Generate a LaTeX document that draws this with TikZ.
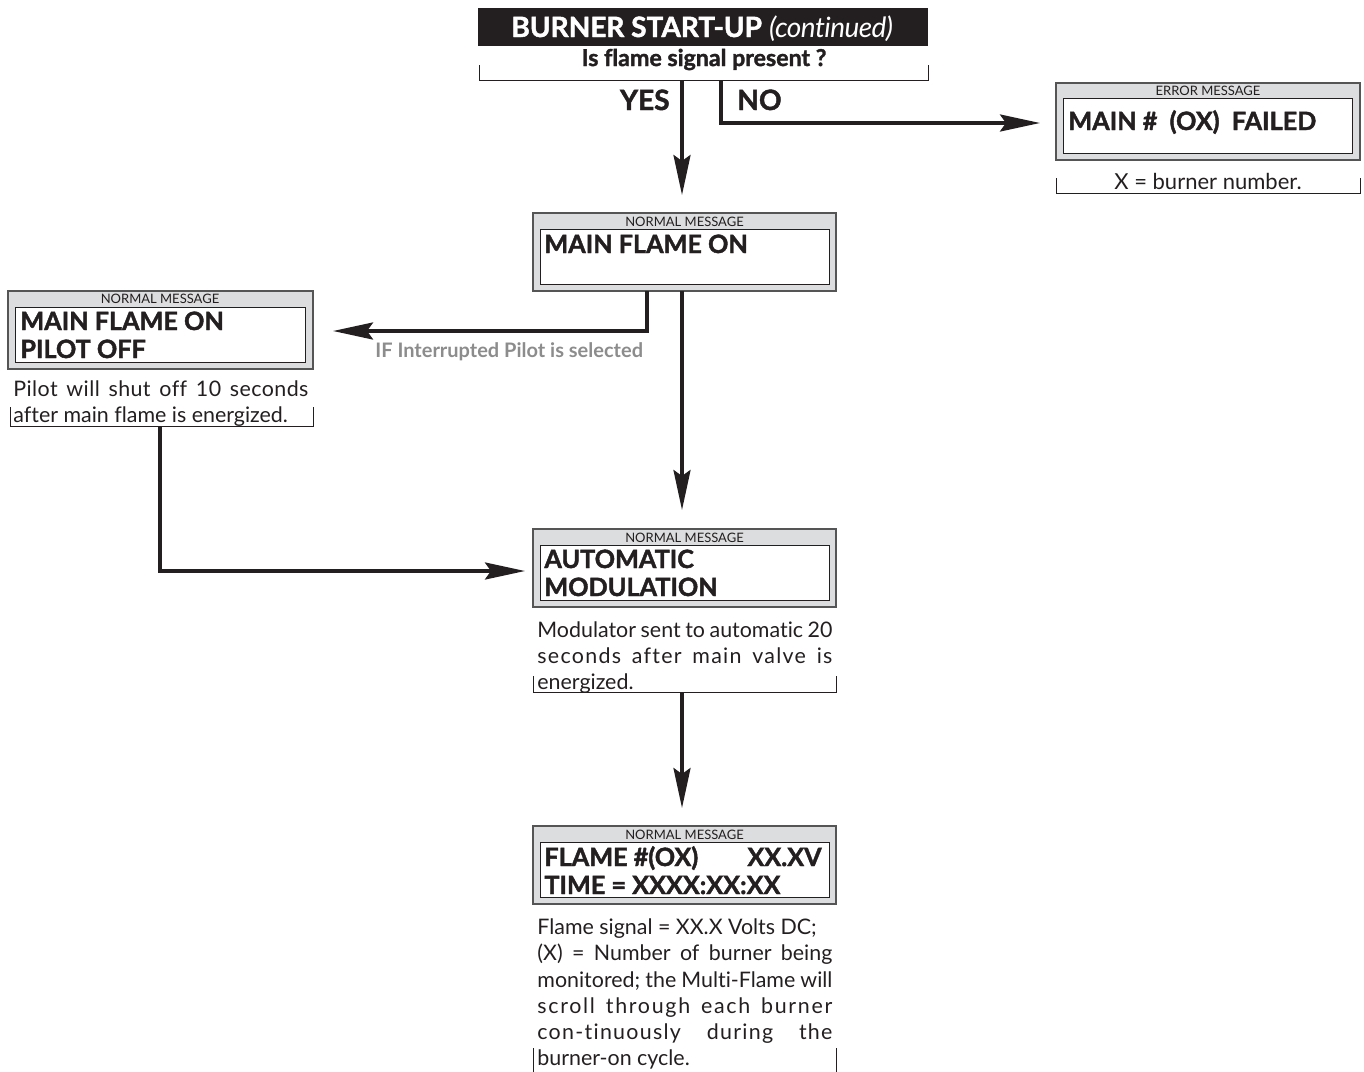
\documentclass[tikz,border=0pt]{standalone}
\usepackage{fontspec}
\setmainfont{Lato}[Ligatures={NoCommon}]
\newfontfamily\heavy{Lato}[Ligatures={NoCommon}, BoldFeatures={FakeBold=1.6}]
\usetikzlibrary{arrows.meta}
\definecolor{boxgray}{RGB}{220,221,222}
\definecolor{edgegray}{RGB}{85,85,85}
\definecolor{ink}{RGB}{35,31,32}
\definecolor{notegray}{RGB}{140,140,140}
\tikzset{
  outerbox/.style={draw=edgegray, fill=boxgray, line width=0.6pt, minimum width=151.5pt, minimum height=39pt, inner sep=0pt},
  innerbox/.style={draw=ink, fill=white, line width=0.5pt, minimum width=144.5pt, minimum height=27.5pt, inner sep=0pt},
  lbl/.style={font=\fontsize{6.5}{7}\selectfont, text=ink, inner sep=0pt},
  msg/.style={font=\heavy\bfseries\fontsize{12.6}{14}\selectfont, text=ink, inner sep=0pt, anchor=base west},
  body/.style={font=\fontsize{10.7}{13}\selectfont, text=ink, inner sep=0pt, anchor=base west},
  flow/.style={line width=1.8pt, draw=ink},
  arr/.style={flow, -{Stealth[length=20pt,width=8.5pt,inset=3pt]}},
  brk/.style={draw=ink, line width=0.5pt},
}
\newcommand{\jline}[1]{\makebox[147.5pt][s]{#1}}
\newcommand{\jlinels}[2]{\makebox[147.5pt][s]{\addfontfeature{LetterSpace=#1}#2}}
\begin{document}
\begin{tikzpicture}[x=0.5pt,y=-0.5pt]
\useasboundingbox (0,0) rectangle (1364,1071);

% title
\node[fill=ink, minimum width=225pt, minimum height=19pt, inner sep=0pt] (title) at (703,27) {};
\node[text=white, inner sep=0pt, anchor=base] (titletxt) at (702,37) {\fontsize{14}{16}\selectfont\heavy\textbf{BURNER START-UP} \textit{\addfontfeature{LetterSpace=-2}(continued)}};
\node[inner sep=0pt, anchor=base, text=ink] (question) at (704,66) {\heavy\bfseries\fontsize{11.6}{13}\selectfont Is flame signal present ?};
\draw[brk] (479,65) -- (479,80) -- (928,80) -- (928,65);
\node[inner sep=0pt, anchor=base east, text=ink, font=\heavy\bfseries\fontsize{14}{16}\selectfont] (yes) at (670,110) {YES};
\node[inner sep=0pt, anchor=base west, text=ink, font=\heavy\bfseries\fontsize{14}{16}\selectfont] (no) at (737,110) {NO};
\coordinate (yesS) at (682,80);
\coordinate (yesE) at (682,195);
\coordinate (noS) at (721,80);
\coordinate (noE) at (1040,123);
\draw[arr] (yesS) -- (yesE);
\draw[arr] (noS) |- (noE);

% error box
\node[outerbox, minimum width=152pt, minimum height=38.5pt] (err) at (1208,121.5) {};
\node[innerbox] (erri) at (1207.5,125.5) {};
\node[lbl] (errl) at (1208,91) {ERROR MESSAGE};
\node[msg] (errm) at (1068,130) {MAIN \# \ (OX) \ FAILED};
\draw[brk] (1056,178) -- (1056,193) -- (1360,193) -- (1360,178);
\node[body, anchor=base, font=\fontsize{11}{13}\selectfont] (errn) at (1208,189) {X = burner number.};

% main flame on
\node[outerbox] (mfo) at (684.5,252) {};
\node[innerbox] (mfoi) at (684.5,256.5) {};
\node[lbl] (mfol) at (684.5,222) {NORMAL MESSAGE};
\node[msg] (mfom) at (544,253) {MAIN FLAME ON};
\coordinate (pilS) at (647,291);
\coordinate (pilE) at (333,331);
\coordinate (mfoS) at (682,291);
\coordinate (mfoE) at (682,510);
\draw[arr] (pilS) |- (pilE);
\draw[arr] (mfoS) -- (mfoE);
\node[inner sep=0pt, anchor=base west, text=notegray, font=\bfseries\fontsize{10}{12}\selectfont] (ifnote) at (375,357) {IF Interrupted Pilot is selected};

% pilot off box
\node[outerbox, minimum width=152.5pt] (pof) at (160.5,330) {};
\node[innerbox, minimum width=145pt] (pofi) at (160,334.5) {};
\node[lbl] (pofl) at (160,299) {NORMAL MESSAGE};
\node[msg] (pofm1) at (20,330) {MAIN FLAME ON};
\node[msg] (pofm2) at (20,358) {PILOT OFF};
\node[body] (pofn1) at (13,396) {\jlinels{2}{Pilot will shut off 10 seconds}};
\node[body] (pofn2) at (13,422) {after main flame is energized.};
\draw[brk] (10,407) -- (10,426) -- (313,426) -- (313,407);
\coordinate (pofS) at (160,426);
\coordinate (pofE) at (525,571);
\draw[arr] (pofS) |- (pofE);

% automatic modulation
\node[outerbox] (am) at (684.5,568) {};
\node[innerbox] (ami) at (684.5,572.5) {};
\node[lbl] (aml) at (684.5,538) {NORMAL MESSAGE};
\node[msg] (amm1) at (544,568) {AUTOMATIC};
\node[msg] (amm2) at (544,596) {MODULATION};
\node[body] (amn1) at (537,637) {\jline{Modulator sent to automatic 20}};
\node[body] (amn2) at (537,663) {\jlinels{6}{seconds after main valve is}};
\node[body] (amn3) at (537,689) {energized.};
\draw[brk] (533,676) -- (533,692) -- (836,692) -- (836,676);
\coordinate (amS) at (682,692);
\coordinate (amE) at (682,808);
\draw[arr] (amS) -- (amE);

% flame box
\node[outerbox] (fl) at (684.5,865) {};
\node[innerbox] (fli) at (684.5,869.5) {};
\node[lbl] (fll) at (684.5,835) {NORMAL MESSAGE};
\node[msg] (flm1) at (544,866) {FLAME \#(OX)};
\node[msg, anchor=base east] (flm1b) at (822,866) {XX.XV};
\node[msg] (flm2) at (544,894) {TIME = XXXX:XX:XX};
\node[body] (fln1) at (537,934) {Flame signal = XX.X Volts DC;};
\node[body] (fln2) at (537,960) {\jline{(X) = Number of burner being}};
\node[body] (fln3) at (537,987) {\jline{monitored; the Multi-Flame will}};
\node[body] (fln4) at (537,1013) {\jlinels{8}{scroll through each burner}};
\node[body] (fln5) at (537,1039) {\jlinels{6}{con-tinuously during the}};
\node[body] (fln6) at (537,1065) {burner-on cycle.};
\draw[brk] (533,1048) -- (533,1075) -- (836,1075) -- (836,1048);
\end{tikzpicture}
\end{document}
